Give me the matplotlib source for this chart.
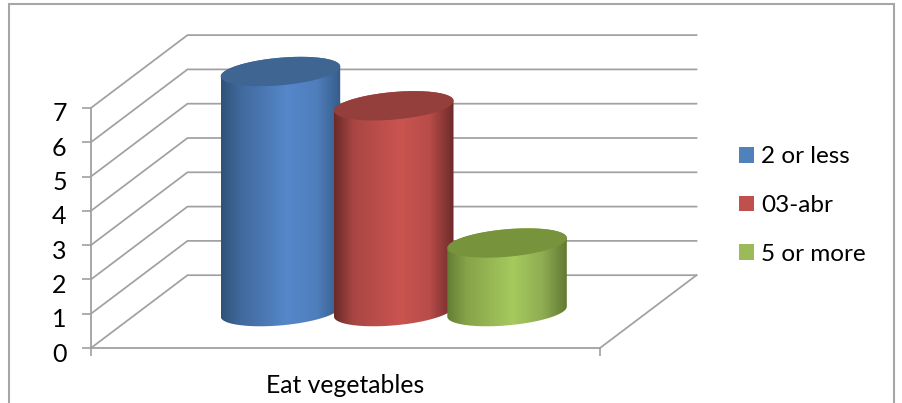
import numpy as np
import matplotlib
matplotlib.use("Agg")
import matplotlib.pyplot as plt
from matplotlib.colors import LinearSegmentedColormap
from matplotlib.patches import Patch, Polygon, Rectangle
from matplotlib.transforms import ScaledTranslation

categories = ["Eat vegetables"]
series_names = ["2 or less", "03-abr", "5 or more"]
series_values = [7, 6, 2]
y_ticks = [0, 1, 2, 3, 4, 5, 6, 7]

legend_colors = ["#4F81BD", "#C0504D", "#9BBB59"]
top_colors = ["#3F6592", "#953F3C", "#77933C"]
ramps = [
    ["#2F5279", "#41699C", "#5587CA", "#4F7EBB", "#365C8A"],
    ["#6A2A28", "#A84643", "#CB5450", "#B74C49", "#6C2B29"],
    ["#647D32", "#86A349", "#A6CA5D", "#8FAC52", "#617A31"],
]
ramp_pos = [0.0, 0.16, 0.55, 0.8, 1.0]

W, H = 902, 403
X0, X1 = 91.0, 600.0      # front floor edge, px
Y0, UNIT = 348.0, 34.3    # zero line, px per unit
px_x = X1 - X0

plt.rcParams["font.family"] = ["Lato", "DejaVu Sans"]
fig = plt.figure(figsize=(W / 100, H / 100), dpi=100, facecolor="white")
ax = fig.add_axes([0, 0, 1, 1])
ax.set_facecolor("none")
xlim = (-X0 / px_x, (W - X0) / px_x)
ylim = ((Y0 - H) / UNIT, Y0 / UNIT)

GRID = "#A0A0A0"
DX, DY = 96.5 / px_x, 72.8 / UNIT   # depth offset in data units
for v in y_ticks:
    ax.plot([0, DX, 1 + DX], [v, v + DY, v + DY], color=GRID, lw=1.25, zorder=1,
            solid_joinstyle="miter")
ax.plot([1, 1 + DX], [0, DY], color=GRID, lw=1.25, zorder=1)

# cylinders
half_w = 59.75 / px_x
b_y, k_y = 13.8 / UNIT, 5.0 / UNIT
step = 113.3 / px_x
n = len(series_values)
for i, (val, ramp, tc) in enumerate(zip(series_values, ramps, top_colors)):
    cx = 0.5 + DX / 2 + (i - (n - 1) / 2) * step
    base = DY / 2
    top = base + val

    def ell(t, c):
        return cx + half_w * np.cos(t), c + b_y * np.sin(t) + k_y * np.cos(t)

    tb = np.linspace(np.pi, 2 * np.pi, 80)
    tt = np.linspace(0, np.pi, 80)
    xb, yb = ell(tb, base)
    xt, yt = ell(tt, top)
    body = Polygon(np.column_stack([np.r_[xb, xt], np.r_[yb, yt]]),
                   closed=True, transform=ax.transData, fc="none", ec="none")
    ax.add_patch(body)
    cmap = LinearSegmentedColormap.from_list("c", list(zip(ramp_pos, ramp)))
    im = ax.imshow(np.linspace(0, 1, 256)[None, :], cmap=cmap, aspect="auto",
                   extent=(cx - half_w, cx + half_w, base - 1, top + 1),
                   zorder=3 + i, interpolation="bilinear")
    im.set_clip_path(body)
    ta = np.linspace(0, 2 * np.pi, 160)
    xe, ye = ell(ta, top)
    ax.fill(xe, ye, color=tc, lw=0, zorder=3 + i + 0.5)

ax.set_xlim(*xlim)
ax.set_ylim(*ylim)

# axes
for s in ("top", "right"):
    ax.spines[s].set_visible(False)
ax.spines["left"].set_position(("data", 0))
ax.spines["bottom"].set_position(("data", 0))
ax.spines["left"].set_bounds(0, y_ticks[-1])
ax.spines["bottom"].set_bounds(0, 1)
for s in ("left", "bottom"):
    ax.spines[s].set_color(GRID)
    ax.spines[s].set_linewidth(1.3)
    ax.spines[s].set_zorder(2)
ax.set_yticks(y_ticks)
ax.set_yticklabels([str(v) for v in y_ticks])
ax.set_xticks([0, 1])
ax.set_xticklabels(["", ""])
ax.set_xticks([0.5], categories, minor=True)
ax.tick_params(axis="y", direction="out", length=6.5, width=1.2, color=GRID,
               labelsize=18, pad=11, labelcolor="black")
ax.tick_params(axis="x", which="major", direction="out", length=6, width=1.2, color=GRID)
ax.tick_params(axis="x", which="minor", length=0, labelsize=17.8, pad=19, labelcolor="black")
down = ScaledTranslation(0, -4 / 100, fig.dpi_scale_trans)
for lab in ax.get_yticklabels():
    lab.set_transform(lab.get_transform() + down)

# legend
handles = [Patch(fc=c, ec="none") for c in legend_colors]
fs = 17.5
leg = fig.legend(handles, series_names, fontsize=fs, frameon=False,
                 loc="center left", bbox_to_anchor=(739 / W, 1 - 205.5 / H),
                 bbox_transform=fig.transFigure, borderpad=0, borderaxespad=0,
                 handlelength=0.62, handleheight=0.62, handletextpad=0.29,
                 labelspacing=1.14)

# outer frame, its lower edge falls outside the picture
fig.add_artist(Rectangle((9 / W, -0.1), (894 - 9) / W, 0.1 + (H - 3.5) / H,
                         transform=fig.transFigure, fc="none", ec="#A6A6A6", lw=1.5,
                         clip_on=True))

fig.savefig("out.png", dpi=100, facecolor="white")
